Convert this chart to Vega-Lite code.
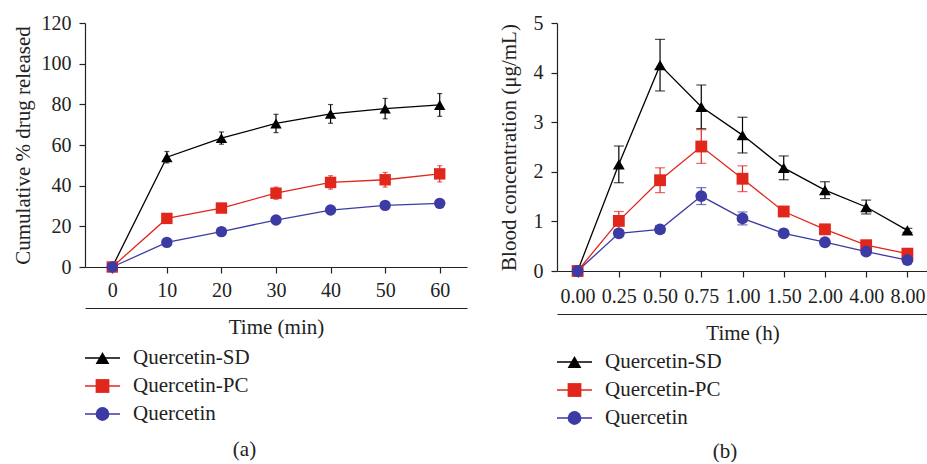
{
  "$schema": "https://vega.github.io/schema/vega-lite/v6.json",
  "padding": {"left": 11, "top": 13, "right": 0, "bottom": 0},
  "config": {
    "font": "Liberation Serif",
    "view": {"stroke": null},
    "axis": {"labelFont": "Liberation Serif", "titleFont": "Liberation Serif", "labelFontSize": 20, "titleFontSize": 21, "titleFontWeight": "normal", "labelColor": "#222", "titleColor": "#222", "domainColor": "#222", "tickColor": "#222", "grid": false, "tickSize": 6, "domainWidth": 1.2, "tickWidth": 1.2},
    "title": {"font": "Liberation Serif", "fontSize": 21, "fontWeight": "normal", "color": "#222"}
  },
  "datasets": {
    "release": [
      {"t": 0, "series": "Quercetin-SD", "v": 0, "e": 0},
      {"t": 10, "series": "Quercetin-SD", "v": 54.0, "e": 2.8},
      {"t": 20, "series": "Quercetin-SD", "v": 63.4, "e": 3.0},
      {"t": 30, "series": "Quercetin-SD", "v": 70.6, "e": 4.5},
      {"t": 40, "series": "Quercetin-SD", "v": 75.3, "e": 4.6},
      {"t": 50, "series": "Quercetin-SD", "v": 77.9, "e": 5.0},
      {"t": 60, "series": "Quercetin-SD", "v": 79.7, "e": 5.6},
      {"t": 0, "series": "Quercetin-PC", "v": 0, "e": 0},
      {"t": 10, "series": "Quercetin-PC", "v": 23.9, "e": 1.0},
      {"t": 20, "series": "Quercetin-PC", "v": 29.0, "e": 1.5},
      {"t": 30, "series": "Quercetin-PC", "v": 36.3, "e": 3.0},
      {"t": 40, "series": "Quercetin-PC", "v": 41.6, "e": 3.3},
      {"t": 50, "series": "Quercetin-PC", "v": 42.9, "e": 3.6},
      {"t": 60, "series": "Quercetin-PC", "v": 45.8, "e": 4.0},
      {"t": 0, "series": "Quercetin", "v": 0, "e": 0},
      {"t": 10, "series": "Quercetin", "v": 12.1, "e": 1.0},
      {"t": 20, "series": "Quercetin", "v": 17.4, "e": 1.0},
      {"t": 30, "series": "Quercetin", "v": 23.1, "e": 1.5},
      {"t": 40, "series": "Quercetin", "v": 28.0, "e": 1.5},
      {"t": 50, "series": "Quercetin", "v": 30.3, "e": 1.5},
      {"t": 60, "series": "Quercetin", "v": 31.3, "e": 2.0}
    ],
    "blood": [
      {"t": "0.00", "series": "Quercetin-SD", "v": 0, "e": 0},
      {"t": "0.25", "series": "Quercetin-SD", "v": 2.15, "e": 0.37},
      {"t": "0.50", "series": "Quercetin-SD", "v": 4.15, "e": 0.52},
      {"t": "0.75", "series": "Quercetin-SD", "v": 3.31, "e": 0.44},
      {"t": "1.00", "series": "Quercetin-SD", "v": 2.74, "e": 0.36},
      {"t": "1.50", "series": "Quercetin-SD", "v": 2.08, "e": 0.24},
      {"t": "2.00", "series": "Quercetin-SD", "v": 1.63, "e": 0.17},
      {"t": "4.00", "series": "Quercetin-SD", "v": 1.29, "e": 0.14},
      {"t": "8.00", "series": "Quercetin-SD", "v": 0.82, "e": 0.04},
      {"t": "0.00", "series": "Quercetin-PC", "v": 0, "e": 0},
      {"t": "0.25", "series": "Quercetin-PC", "v": 1.01, "e": 0.19},
      {"t": "0.50", "series": "Quercetin-PC", "v": 1.83, "e": 0.25},
      {"t": "0.75", "series": "Quercetin-PC", "v": 2.51, "e": 0.34},
      {"t": "1.00", "series": "Quercetin-PC", "v": 1.86, "e": 0.26},
      {"t": "1.50", "series": "Quercetin-PC", "v": 1.20, "e": 0.05},
      {"t": "2.00", "series": "Quercetin-PC", "v": 0.84, "e": 0.04},
      {"t": "4.00", "series": "Quercetin-PC", "v": 0.52, "e": 0.04},
      {"t": "8.00", "series": "Quercetin-PC", "v": 0.35, "e": 0.03},
      {"t": "0.00", "series": "Quercetin", "v": 0, "e": 0},
      {"t": "0.25", "series": "Quercetin", "v": 0.76, "e": 0.03},
      {"t": "0.50", "series": "Quercetin", "v": 0.84, "e": 0.07},
      {"t": "0.75", "series": "Quercetin", "v": 1.51, "e": 0.17},
      {"t": "1.00", "series": "Quercetin", "v": 1.06, "e": 0.13},
      {"t": "1.50", "series": "Quercetin", "v": 0.76, "e": 0.03},
      {"t": "2.00", "series": "Quercetin", "v": 0.58, "e": 0.03},
      {"t": "4.00", "series": "Quercetin", "v": 0.39, "e": 0.03},
      {"t": "8.00", "series": "Quercetin", "v": 0.22, "e": 0.02}
    ],
    "legend": [
      {"series": "Quercetin-SD", "a": 0, "b": 1, "m": 0.5},
      {"series": "Quercetin-PC", "a": 0, "b": 1, "m": 0.5},
      {"series": "Quercetin", "a": 0, "b": 1, "m": 0.5}
    ]
  },
  "hconcat": [
    {
      "title": {"text": "(a)", "orient": "bottom", "anchor": "middle", "offset": 11, "dx": 5},
      "vconcat": [
        {
          "width": 382, "height": 244,
          "data": {"name": "release"},
          "layer": [
            {
              "layer": [
                {
                  "mark": {"type": "errorbar", "ticks": {"size": 5, "strokeWidth": 1.2}, "thickness": 1.2},
                  "encoding": {
                    "x": {"field": "t", "type": "quantitative", "title": null},
                    "y": {"field": "v", "type": "quantitative", "title": "Cumulative % drug released"},
                    "yError": {"field": "e"},
                    "color": {"field": "series", "type": "nominal", "legend": null, "scale": {"domain": ["Quercetin-SD", "Quercetin-PC", "Quercetin"], "range": ["#000000", "#e1261c", "#3b3ba3"]}}
                  }
                },
                {
                  "mark": {"type": "line", "strokeWidth": 1.3},
                  "encoding": {
                    "x": {"field": "t", "type": "quantitative", "title": null},
                    "y": {"field": "v", "type": "quantitative", "title": "Cumulative % drug released"},
                    "color": {"field": "series", "type": "nominal", "legend": null}
                  }
                },
                {
                  "mark": {"type": "point", "filled": true, "opacity": 1, "size": 130},
                  "encoding": {
                    "x": {"field": "t", "type": "quantitative", "title": null, "scale": {"domain": [-5, 65], "nice": false}, "axis": {"values": [0, 10, 20, 30, 40, 50, 60], "labelPadding": 7}},
                    "y": {"field": "v", "type": "quantitative", "title": "Cumulative % drug released", "scale": {"domain": [0, 120], "nice": false}, "axis": {"values": [0, 20, 40, 60, 80, 100, 120], "titlePadding": 8, "labelPadding": 8}},
                    "color": {"field": "series", "type": "nominal", "legend": null},
                    "shape": {"field": "series", "type": "nominal", "legend": null, "scale": {"domain": ["Quercetin-SD", "Quercetin-PC", "Quercetin"], "range": ["triangle-up", "square", "circle"]}}
                  }
                }
              ]
            },
            {
              "mark": {"type": "point", "opacity": 0},
              "encoding": {
                "x": {"field": "t", "type": "quantitative", "title": "Time (min)", "axis": {"orient": "bottom", "offset": 41, "labels": false, "ticks": false, "titlePadding": 8}}
              }
            }
          ],
          "resolve": {"axis": {"x": "independent"}}
        },
        {
          "width": 35, "height": 84,
          "data": {"name": "legend"},
          "layer": [
            {
              "mark": {"type": "rule", "strokeWidth": 1.3},
              "encoding": {
                "x": {"field": "a", "type": "quantitative", "scale": {"domain": [0, 1]}, "axis": null},
                "x2": {"field": "b"},
                "y": {"field": "series", "type": "nominal", "sort": ["Quercetin-SD", "Quercetin-PC", "Quercetin"], "axis": null, "scale": {"type": "point", "padding": 0.5}},
                "color": {"field": "series", "type": "nominal", "legend": null, "scale": {"domain": ["Quercetin-SD", "Quercetin-PC", "Quercetin"], "range": ["#000000", "#e1261c", "#3b3ba3"]}}
              }
            },
            {
              "mark": {"type": "point", "filled": true, "opacity": 1, "size": 190},
              "encoding": {
                "x": {"field": "m", "type": "quantitative"},
                "y": {"field": "series", "type": "nominal", "sort": ["Quercetin-SD", "Quercetin-PC", "Quercetin"]},
                "color": {"field": "series", "type": "nominal", "legend": null},
                "shape": {"field": "series", "type": "nominal", "legend": null, "scale": {"domain": ["Quercetin-SD", "Quercetin-PC", "Quercetin"], "range": ["triangle-up", "square", "circle"]}}
              }
            },
            {
              "mark": {"type": "text", "align": "left", "dx": 13, "fontSize": 21, "color": "#222", "font": "Liberation Serif"},
              "encoding": {
                "x": {"field": "b", "type": "quantitative"},
                "y": {"field": "series", "type": "nominal", "sort": ["Quercetin-SD", "Quercetin-PC", "Quercetin"]},
                "text": {"field": "series"}
              }
            }
          ]
        }
      ],
      "spacing": 7
    },
    {
      "title": {"text": "(b)", "orient": "bottom", "anchor": "middle", "offset": 9, "dx": 12},
      "vconcat": [
        {
          "width": 371, "height": 248,
          "data": {"name": "blood"},
          "layer": [
            {
              "layer": [
                {
                  "mark": {"type": "errorbar", "ticks": {"size": 10, "strokeWidth": 1.2}, "thickness": 1.2},
                  "encoding": {
                    "x": {"field": "t", "type": "ordinal", "title": null, "scale": {"type": "point", "padding": 0.5}, "axis": {"labelAngle": 0, "labelAlign": "center", "labelBaseline": "top", "labelPadding": 9}},
                    "y": {"field": "v", "type": "quantitative", "title": "Blood concentration (μg/mL)"},
                    "yError": {"field": "e"},
                    "color": {"field": "series", "type": "nominal", "legend": null, "scale": {"domain": ["Quercetin-SD", "Quercetin-PC", "Quercetin"], "range": ["#000000", "#e1261c", "#3b3ba3"]}}
                  }
                },
                {
                  "mark": {"type": "line", "strokeWidth": 1.3},
                  "encoding": {
                    "x": {"field": "t", "type": "ordinal", "title": null, "scale": {"type": "point", "padding": 0.5}, "axis": {"labelAngle": 0, "labelAlign": "center", "labelBaseline": "top", "labelPadding": 9}},
                    "y": {"field": "v", "type": "quantitative", "title": "Blood concentration (μg/mL)"},
                    "color": {"field": "series", "type": "nominal", "legend": null}
                  }
                },
                {
                  "mark": {"type": "point", "filled": true, "opacity": 1, "size": 140},
                  "encoding": {
                    "x": {"field": "t", "type": "ordinal", "title": null, "scale": {"type": "point", "padding": 0.5}, "axis": {"labelAngle": 0, "labelAlign": "center", "labelBaseline": "top", "labelPadding": 9}},
                    "y": {"field": "v", "type": "quantitative", "title": "Blood concentration (μg/mL)", "scale": {"domain": [0, 5], "nice": false}, "axis": {"values": [0, 1, 2, 3, 4, 5], "titlePadding": 14, "labelPadding": 8}},
                    "color": {"field": "series", "type": "nominal", "legend": null},
                    "shape": {"field": "series", "type": "nominal", "legend": null, "scale": {"domain": ["Quercetin-SD", "Quercetin-PC", "Quercetin"], "range": ["triangle-up", "square", "circle"]}}
                  }
                }
              ]
            },
            {
              "mark": {"type": "point", "opacity": 0},
              "encoding": {
                "x": {"field": "t", "type": "ordinal", "title": "Time (h)", "scale": {"type": "point", "padding": 0.5}, "axis": {"orient": "bottom", "offset": 43, "labels": false, "ticks": false, "titlePadding": 8}}
              }
            }
          ],
          "resolve": {"axis": {"x": "independent"}}
        },
        {
          "width": 35, "height": 84,
          "data": {"name": "legend"},
          "layer": [
            {
              "mark": {"type": "rule", "strokeWidth": 1.3},
              "encoding": {
                "x": {"field": "a", "type": "quantitative", "scale": {"domain": [0, 1]}, "axis": null},
                "x2": {"field": "b"},
                "y": {"field": "series", "type": "nominal", "sort": ["Quercetin-SD", "Quercetin-PC", "Quercetin"], "axis": null, "scale": {"type": "point", "padding": 0.5}},
                "color": {"field": "series", "type": "nominal", "legend": null, "scale": {"domain": ["Quercetin-SD", "Quercetin-PC", "Quercetin"], "range": ["#000000", "#e1261c", "#3b3ba3"]}}
              }
            },
            {
              "mark": {"type": "point", "filled": true, "opacity": 1, "size": 190},
              "encoding": {
                "x": {"field": "m", "type": "quantitative"},
                "y": {"field": "series", "type": "nominal", "sort": ["Quercetin-SD", "Quercetin-PC", "Quercetin"]},
                "color": {"field": "series", "type": "nominal", "legend": null},
                "shape": {"field": "series", "type": "nominal", "legend": null, "scale": {"domain": ["Quercetin-SD", "Quercetin-PC", "Quercetin"], "range": ["triangle-up", "square", "circle"]}}
              }
            },
            {
              "mark": {"type": "text", "align": "left", "dx": 13, "fontSize": 21, "color": "#222", "font": "Liberation Serif"},
              "encoding": {
                "x": {"field": "b", "type": "quantitative"},
                "y": {"field": "series", "type": "nominal", "sort": ["Quercetin-SD", "Quercetin-PC", "Quercetin"]},
                "text": {"field": "series"}
              }
            }
          ]
        }
      ],
      "spacing": 5
    }
  ],
  "spacing": 30
}
